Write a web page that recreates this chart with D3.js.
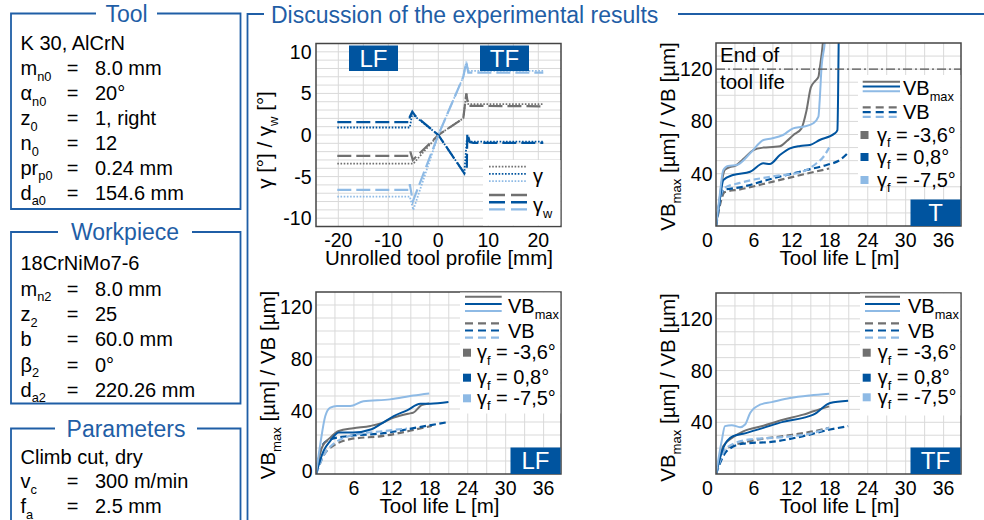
<!DOCTYPE html>
<html><head><meta charset="utf-8">
<script src="https://cdn.jsdelivr.net/npm/d3@7"></script>
<style>body{margin:0;background:#fff}svg{display:block}</style>
</head><body>
<svg id="c" width="984" height="520"></svg>
<script>
// ---------------- DATA ----------------
const toolInfo = [["K 30, AlCrN"],["m","n0","8.0 mm"],["α","n0","20°"],["z","0","1, right"],["n","0","12"],["pr","p0","0.24 mm"],["d","a0","154.6 mm"]];
const workpieceInfo = [["18CrNiMo7-6"],["m","n2","8.0 mm"],["z","2","25"],["b","","60.0 mm"],["β","2","0°"],["d","a2","220.26 mm"]];
const paramInfo = [["Climb cut, dry"],["v","c","300 m/min"],["f","a","2.5 mm"]];

// rake angle along unrolled tool profile [mm] -> [°]
const profXTicks = [-20,-10,0,10,20];
const profYTicks = [-10,-5,0,5,10];
const grayGammaW  = [[-20.2,-2.5],[-5.7,-2.5],[-5.6,-2.0],[-5.1,-3.0],[0,0],[5.0,2.0],[5.6,5.0],[6.0,3.5],[21,3.45]];
const grayGamma   = [[-20.2,-3.45],[-5.0,-3.45],[0,0],[5.0,2.0],[5.6,5.0],[6.0,3.7],[21,3.7]];
const darkGammaW  = [[-20.2,1.55],[-5.7,1.55],[-5.7,2.2],[-5.2,2.8],[-4.6,2.3],[0,0],[5.2,-4.6],[5.7,-4.0],[5.8,0.2],[6.3,-0.85],[7,-0.95],[21,-0.95]];
const darkGamma   = [[-20.2,0.9],[-5.7,0.9],[-5.2,2.6],[-4.6,2.2],[0,0],[5.2,-4.6],[5.7,-0.6],[6.3,-0.8],[21,-0.8]];
const lightGammaW = [[-20.2,-6.6],[-5.7,-6.6],[-5.7,-5.9],[-5.1,-8.0],[0,0],[5.0,7.0],[5.6,8.8],[6.0,7.5],[21,7.5]];
const lightGamma  = [[-20.2,-7.4],[-5.7,-7.4],[-5.0,-9.0],[0,0],[5.0,7.0],[5.6,8.8],[6.0,7.7],[21,7.7]];

// flank wear over tool life L [m] -> [µm]
const lifeXTicks = [6,12,18,24,30,36];
const wearYTicks = [40,80,120];
const endOfToolLife = 120;
const gammaFLabels = ["-3,6°","0,8°","-7,5°"];

const T_VBmax_gray  = [[0,0],[0.5,18],[1.0,36],[1.4,43],[2.2,45],[3,46],[4.5,52],[5.9,58],[7.5,60],[9,60.5],[10.1,61],[11.2,65],[12.2,69.5],[13.5,74.5],[14.3,88],[15,106],[15.7,111],[16.2,114],[16.4,120.5],[16.9,140],[17,146]];
const T_VBmax_dark  = [[0,0],[0.6,20],[1.16,35.2],[2.7,39],[5.4,41.5],[7.5,48],[8.5,47.4],[10.1,54.3],[11.7,59.4],[13.3,61.2],[14.85,62],[16.4,65.8],[18.8,70.9],[19.2,73.4],[19.3,96],[19.4,140],[19.45,146]];
const T_VBmax_light = [[0,0],[0.5,20],[1.16,42.8],[1.9,46],[3.3,46.7],[5.4,55.6],[7.5,65.8],[8.8,67],[10.6,69.6],[12.2,74.7],[13.8,76],[15.4,78.6],[16.2,83.6],[16.4,96],[16.7,122],[17.2,140],[17.3,146]];
const T_VB_gray  = [[0,0],[1.4,26],[3.8,28],[9.05,34],[14.3,40],[17.9,44]];
const T_VB_dark  = [[0,0],[1.2,27.5],[3.8,29.6],[9.05,36.5],[14.3,42.8],[17.5,46.7],[19.6,50.5],[20.9,56]];
const T_VB_light = [[0,0],[1.2,28.8],[3.8,33],[9.05,38],[13.3,41],[15.9,48],[17,53],[17.9,60]];

const LF_VBmax_gray  = [[0,0],[0.95,20.4],[2.26,28],[3.6,33.1],[5.9,35.2],[8.6,37],[10.2,38.8],[12.3,43.4],[14.6,46.4],[15.4,47.2],[16.7,53],[17.9,54.3]];
const LF_VBmax_dark  = [[0,0],[1.2,17.8],[2.26,25.5],[3.6,31.9],[5.9,31.9],[8.8,34.4],[10.2,38.3],[12.3,44.6],[14.4,49],[16.5,54],[18.05,54],[20.95,55.3]];
const LF_VBmax_light = [[0,0],[0.68,23],[1.47,44.6],[2.26,51],[3.3,52.3],[5.4,52.3],[7.5,56],[11.7,57.4],[15.4,60.4],[17.9,62]];
const LF_VB_gray  = [[0,0],[1.7,17.8],[5.4,26.8],[10.7,29.3],[15.9,34.4],[18.3,37]];
const LF_VB_dark  = [[0,0],[0.95,21.7],[2.26,26.8],[5.4,29.3],[10.7,31.4],[15.9,35.7],[20.95,40]];
const LF_VB_light = [[0,0],[1.7,18],[5.4,29.3],[10.7,33],[14.4,35]];

const TF_VBmax_gray  = [[0,0],[1.16,21.7],[2.7,28.5],[4.3,33],[7.5,37.3],[10.6,41.9],[13.8,45.9],[15.4,48.5],[17.9,52.3]];
const TF_VBmax_dark  = [[0,0],[1.16,20.4],[2.7,29.3],[4.3,31.1],[7.5,35.7],[10.6,40.3],[13.8,43.4],[15.4,45.9],[18.05,54.9],[20.9,56.6]];
const TF_VBmax_light = [[0,0],[0.9,25.5],[1.42,37],[2.5,37.8],[3.8,36.2],[4.6,38.3],[5.4,47.2],[6.95,53.6],[8.8,55.6],[11.7,58.7],[14.85,60.7],[17.9,62]];
const TF_VB_gray  = [[0,0],[1.42,19],[5.4,25.5],[10.6,29.3],[15.4,33],[17.9,35.7]];
const TF_VB_dark  = [[0,0],[1.7,17.8],[4.3,23.5],[9.05,25],[13.8,29.3],[18.05,34.4],[20.9,37]];
const TF_VB_light = [[0,0],[1.7,20.4],[5.4,26.8],[10.6,28.5],[15.4,31.9],[17.9,35.7]];

// ---------------- STYLE ----------------
const FONT = "'Liberation Sans', Arial, sans-serif";
const BLUE_T = "#1f5ea6";
const C_GRAY = "#707070", C_DARK = "#00549f", C_LIGHT = "#8ebae5";
const GRID = "#d9d9d9", FRAME = "#444";
const TICK = 19.5, TITLE = 20.5, LEG = 20, INFO = 20, HEAD = 23;

const svg = d3.select("#c").attr("font-family", FONT);

function rich(sel, x, y, parts, size, anchor, fill) {
  const t = sel.append("text").attr("x", x).attr("y", y).attr("font-size", size)
    .attr("text-anchor", anchor || "start").attr("fill", fill || "#000");
  let down = 0;
  parts.forEach(p => {
    if (p.startsWith("_")) {
      const d = size * 0.28;
      t.append("tspan").attr("dy", d - down).attr("font-size", size * 0.64).text(p.slice(1));
      down = d;
    } else {
      t.append("tspan").attr("dy", -down).text(p);
      down = 0;
    }
  });
  return t;
}

// ---------------- LEFT INFO PANELS ----------------
function infoBox(title, rows, top, bottom, gapL, gapR, firstY, step) {
  const x0 = 11, x1 = 240.5;
  svg.append("path")
    .attr("d", `M${gapR},${top}H${x1}V${bottom}H${x0}V${top}H${gapL}`)
    .attr("fill", "none").attr("stroke", BLUE_T).attr("stroke-width", 1.8);
  svg.append("text").attr("x", (gapL + gapR) / 2).attr("y", top + 8.2).attr("text-anchor", "middle")
    .attr("font-size", HEAD).attr("fill", BLUE_T).text(title);
  rows.forEach((r, i) => {
    const y = firstY + i * step + 7;
    if (r.length === 1) {
      rich(svg, 20.5, y, [r[0]], INFO);
    } else {
      const parts = [r[0]]; if (r[1]) parts.push("_" + r[1]);
      rich(svg, 20.5, y, parts, INFO);
      svg.append("text").attr("x", 72.5).attr("y", y).attr("text-anchor", "middle").attr("font-size", INFO).text("=");
      svg.append("text").attr("x", 95).attr("y", y).attr("font-size", INFO).text(r[2]);
    }
  });
}
infoBox("Tool", toolInfo, 13.5, 209, 96, 157, 43.3, 24.9);
infoBox("Workpiece", workpieceInfo, 232, 403.5, 58, 192, 263.3, 25.3);
infoBox("Parameters", paramInfo, 428.5, 540, 55, 197, 456.7, 24.7);

// right panel frame + title
svg.append("path").attr("d", "M264,14H247.5V520").attr("fill", "none").attr("stroke", BLUE_T).attr("stroke-width", 1.8);
svg.append("path").attr("d", "M678,14H984").attr("fill", "none").attr("stroke", BLUE_T).attr("stroke-width", 1.8);
svg.append("text").attr("x", 271).attr("y", 22.5).attr("font-size", HEAD).attr("fill", BLUE_T)
  .text("Discussion of the experimental results");

// ---------------- helpers ----------------
function badge(x, y, w, h, txt) {
  svg.append("rect").attr("x", x).attr("y", y).attr("width", w).attr("height", h).attr("fill", C_DARK);
  svg.append("text").attr("x", x + w / 2).attr("y", y + h / 2 + 8.5).attr("text-anchor", "middle")
    .attr("font-size", 24).attr("fill", "#fff").text(txt);
}
let clipId = 0;
function clipFor(x, y) {
  const id = "clip" + (clipId++);
  svg.append("clipPath").attr("id", id).append("rect")
    .attr("x", x.range()[0]).attr("y", y.range()[1]).attr("width", x.range()[1] - x.range()[0]).attr("height", y.range()[0] - y.range()[1]);
  return "url(#" + id + ")";
}
function grid(x, y, xs, ys) {
  const g = svg.append("g").attr("stroke", GRID).attr("stroke-width", 1);
  xs.forEach(v => g.append("line").attr("x1", x(v)).attr("x2", x(v)).attr("y1", y.range()[0]).attr("y2", y.range()[1]));
  ys.forEach(v => g.append("line").attr("y1", y(v)).attr("y2", y(v)).attr("x1", x.range()[0]).attr("x2", x.range()[1]));
}
function frame(x, y) {
  svg.append("rect").attr("x", x.range()[0]).attr("y", y.range()[1])
    .attr("width", x.range()[1] - x.range()[0]).attr("height", y.range()[0] - y.range()[1])
    .attr("fill", "none").attr("stroke", FRAME).attr("stroke-width", 1.5);
}

// ---------------- CHART 1: rake angle ----------------
{
  const x = d3.scaleLinear().domain([-24.46, 24.54]).range([316, 561]);
  const y = d3.scaleLinear().domain([-11, 11]).range([226.5, 43.5]);
  grid(x, y, d3.range(-20, 21, 5), d3.range(-10, 11, 1));
  const clip = clipFor(x, y);
  const line = d3.line().x(d => x(d[0])).y(d => y(d[1]));
  const g = svg.append("g").attr("clip-path", clip).attr("fill", "none");
  const dashed = [[grayGammaW, C_GRAY], [darkGammaW, C_DARK], [lightGammaW, C_LIGHT]];
  const dotted = [[grayGamma, C_GRAY], [darkGamma, C_DARK], [lightGamma, C_LIGHT]];
  dashed.forEach(([d, c]) => g.append("path").attr("d", line(d)).attr("stroke", c).attr("stroke-width", 2.2).attr("stroke-dasharray", "14,5"));
  dotted.forEach(([d, c]) => g.append("path").attr("d", line(d)).attr("stroke", c).attr("stroke-width", 1.8).attr("stroke-dasharray", "1.6,1.6"));
  frame(x, y);
  // legend
  svg.append("rect").attr("x", 483).attr("y", 160).attr("width", 77.3).attr("height", 65.5).attr("fill", "#fff");
  [C_GRAY, C_DARK, C_LIGHT].forEach((c, i) => {
    svg.append("line").attr("x1", 489).attr("x2", 527).attr("y1", 166.7 + i * 7.2).attr("y2", 166.7 + i * 7.2)
      .attr("stroke", c).attr("stroke-width", 1.8).attr("stroke-dasharray", "1.6,1.6");
    svg.append("line").attr("x1", 489).attr("x2", 527).attr("y1", 195 + i * 7.2).attr("y2", 195 + i * 7.2)
      .attr("stroke", c).attr("stroke-width", 2.4).attr("stroke-dasharray", "16,6");
  });
  rich(svg, 533, 183, ["γ"], LEG);
  rich(svg, 533, 212, ["γ", "_w"], LEG);
  badge(349, 45.5, 49, 25.5, "LF");
  badge(480, 45.5, 49, 25.5, "TF");
  profXTicks.forEach(v => svg.append("text").attr("x", x(v)).attr("y", 246.5).attr("text-anchor", "middle").attr("font-size", TICK).text(v));
  profYTicks.forEach(v => svg.append("text").attr("x", 311.5).attr("y", y(v) + 7).attr("text-anchor", "end").attr("font-size", TICK).text(v));
  svg.append("text").attr("x", 439).attr("y", 265).attr("text-anchor", "middle").attr("font-size", TITLE).text("Unrolled  tool profile [mm]");
  const yt = svg.append("g").attr("transform", "translate(272,140) rotate(-90)");
  rich(yt, 0, 0, ["γ [°] / γ", "_w", " [°]"], TITLE, "middle");
}

// ---------------- WEAR CHARTS ----------------
function wearChart(cfg) {
  const x = d3.scaleLinear().domain([0, 38.75]).range([cfg.x0, cfg.x1]);
  const y = d3.scaleLinear().domain([0, 140]).range([cfg.yb, cfg.yt]);
  grid(x, y, d3.range(3, 39, 3), d3.range(10, 140, 10));
  const clip = clipFor(x, y);
  const line = d3.line().x(d => x(d[0])).y(d => y(d[1])).curve(d3.curveMonotoneX);
  const g = svg.append("g").attr("clip-path", clip).attr("fill", "none");
  const cols = [C_GRAY, C_DARK, C_LIGHT];
  cfg.vb.forEach((d, i) => g.append("path").attr("d", line(d)).attr("stroke", cols[i]).attr("stroke-width", 2.2).attr("stroke-dasharray", "6.5,3.5"));
  cfg.vbmax.forEach((d, i) => g.append("path").attr("d", line(d)).attr("stroke", cols[i]).attr("stroke-width", 2));
  if (cfg.eol) {
    svg.append("line").attr("x1", x.range()[0]).attr("x2", x.range()[1]).attr("y1", y(endOfToolLife)).attr("y2", y(endOfToolLife))
      .attr("stroke", "#555").attr("stroke-width", 1.3).attr("stroke-dasharray", "9,3,2,3");
  }
  frame(x, y);
  // legend
  const L = cfg.leg;
  svg.append("rect").attr("x", L.bx).attr("y", L.by).attr("width", x.range()[1] - L.bx - 0.8).attr("height", L.bh).attr("fill", "#fff");
  cols.forEach((c, i) => {
    svg.append("line").attr("x1", L.lx0).attr("x2", L.lx1).attr("y1", L.solidY + i * L.dy).attr("y2", L.solidY + i * L.dy)
      .attr("stroke", c).attr("stroke-width", 2);
    svg.append("line").attr("x1", L.lx0).attr("x2", L.lx1).attr("y1", L.dashY + i * L.dy).attr("y2", L.dashY + i * L.dy)
      .attr("stroke", c).attr("stroke-width", 2.2).attr("stroke-dasharray", "8,5");
    svg.append("rect").attr("x", L.sqx - 4).attr("y", L.sqY[i] - 4).attr("width", 8).attr("height", 8).attr("fill", c);
    rich(svg, L.tx, L.sqY[i] + 6.5, ["γ", "_f", " = " + gammaFLabels[i]], LEG);
  });
  rich(svg, L.labX, L.solidY + L.dy * 1.3 + 7, ["VB", "_max"], LEG);
  rich(svg, L.labX, L.dashY + L.dy + 7, ["VB"], LEG);
  if (cfg.eol) {
    svg.append("text").attr("x", x.range()[0] + 4).attr("y", 62).attr("font-size", TITLE).text("End of");
    svg.append("text").attr("x", x.range()[0] + 4).attr("y", 88.5).attr("font-size", TITLE).text("tool life");
  }
  badge(x.range()[1] - 50.5, cfg.yb - 26.5, 50, 26.5, cfg.badge);
  // ticks
  lifeXTicks.forEach(v => svg.append("text").attr("x", x(v)).attr("y", cfg.xtY).attr("text-anchor", "middle").attr("font-size", TICK).text(v));
  if (cfg.zeroOnX) svg.append("text").attr("x", x(0) - 8.5).attr("y", cfg.xtY).attr("text-anchor", "middle").attr("font-size", TICK).text(0);
  const yTicks = cfg.zeroOnX ? wearYTicks : [0].concat(wearYTicks);
  yTicks.forEach(v => svg.append("text").attr("x", cfg.x0 - 3.5).attr("y", (v === 0 ? y(0) - 3 : y(v) + cfg.yLabShift) + 7)
    .attr("text-anchor", "end").attr("font-size", TICK).text(v));
  svg.append("text").attr("x", (cfg.x0 + cfg.x1) / 2 + 1).attr("y", cfg.xtitleY).attr("text-anchor", "middle").attr("font-size", TITLE).text("Tool life L [m]");
  const yt = svg.append("g").attr("transform", `translate(${cfg.x0 - 41},${cfg.ytitleC}) rotate(-90)`);
  rich(yt, 0, 0, ["VB", "_max", " [µm] / VB [µm]"], TITLE, "middle");
}

wearChart({ x0: 716, x1: 961, yt: 43, yb: 226, eol: true, badge: "T", zeroOnX: true, yLabShift: 0,
  xtY: 246.5, xtitleY: 265, ytitleC: 136.5,
  vbmax: [T_VBmax_gray, T_VBmax_dark, T_VBmax_light], vb: [T_VB_gray, T_VB_dark, T_VB_light],
  leg: { bx: 858, by: 75, bh: 111, lx0: 862.7, lx1: 900, solidY: 81.7, dashY: 107.3, dy: 4.8, labX: 903, sqx: 864.5, sqY: [135, 157, 180], tx: 877 } });

wearChart({ x0: 316, x1: 561, yt: 292, yb: 474, eol: false, badge: "LF", zeroOnX: false, yLabShift: -11,
  xtY: 494.5, xtitleY: 513, ytitleC: 385,
  vbmax: [LF_VBmax_gray, LF_VBmax_dark, LF_VBmax_light], vb: [LF_VB_gray, LF_VB_dark, LF_VB_light],
  leg: { bx: 460, by: 292.5, bh: 121, lx0: 465, lx1: 501.7, solidY: 296.7, dashY: 323.3, dy: 7.2, labX: 508, sqx: 467, sqY: [352.7, 377.7, 398.3], tx: 477 } });

wearChart({ x0: 716, x1: 961, yt: 293, yb: 474, eol: false, badge: "TF", zeroOnX: true, yLabShift: 0,
  xtY: 494.5, xtitleY: 513, ytitleC: 387.5,
  vbmax: [TF_VBmax_gray, TF_VBmax_dark, TF_VBmax_light], vb: [TF_VB_gray, TF_VB_dark, TF_VB_light],
  leg: { bx: 860, by: 293.5, bh: 122, lx0: 865, lx1: 900, solidY: 296.7, dashY: 323.3, dy: 7.2, labX: 908, sqx: 866.7, sqY: [352.7, 377.7, 397.3], tx: 877.7 } });
</script>
</body></html>
